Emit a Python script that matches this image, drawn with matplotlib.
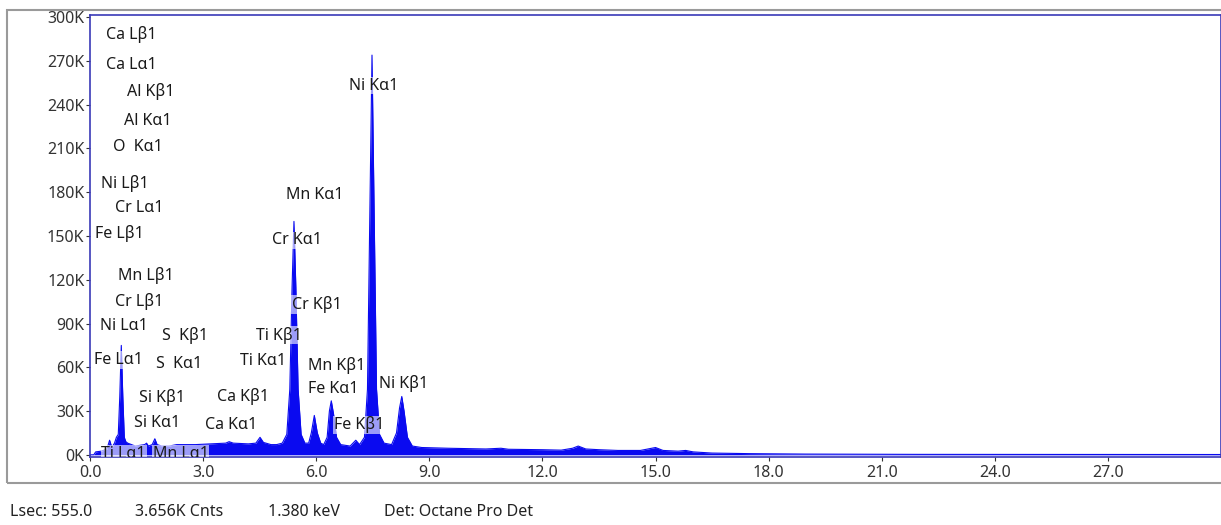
import numpy as np
import matplotlib
matplotlib.use("Agg")
import matplotlib.pyplot as plt
from matplotlib.patches import Rectangle

plt.rcParams['font.family'] = ['Noto Sans', 'DejaVu Sans']

# spectrum: energy (keV), counts (K)
energy = [0.00, 0.10, 0.15, 0.30, 0.45, 0.52, 0.58, 0.65, 0.70, 0.75, 0.79, 0.83,
          0.87, 0.91, 0.95, 1.00, 1.20, 1.45, 1.50, 1.55, 1.65, 1.72, 1.78, 1.90,
          2.10, 2.30, 2.40, 2.80, 3.20, 3.60, 3.69, 3.80, 4.20, 4.40, 4.51, 4.60,
          4.80, 4.95, 5.10, 5.22, 5.30, 5.36, 5.41, 5.46, 5.52, 5.60, 5.70, 5.80,
          5.87, 5.95, 6.03, 6.12, 6.20, 6.29, 6.35, 6.40, 6.46, 6.54, 6.65, 6.90,
          7.05, 7.15, 7.28, 7.36, 7.42, 7.48, 7.54, 7.60, 7.68, 7.80, 8.00, 8.13,
          8.21, 8.27, 8.33, 8.42, 8.55, 8.80, 9.50, 10.5, 10.9, 11.1, 12.0, 12.5,
          12.8, 12.95, 13.15, 13.5, 14.0, 14.6, 14.9, 15.0, 15.2, 15.6, 15.8, 16.0,
          16.5, 17.5, 19.0, 22.0, 30.0]
counts_k = [0, 0, 2.0, 2.5, 4, 10, 5, 8, 12, 14, 40, 75,
            40, 12, 9, 8, 6, 7, 8, 6, 7, 11, 7, 6,
            6, 7, 7, 7, 7.5, 8, 9, 8, 7.5, 8, 12, 8.5,
            7, 7, 8, 14, 45, 115, 160, 115, 45, 14, 8, 8,
            15, 27, 15, 8, 7, 12, 30, 37, 28, 12, 7, 6,
            10, 7, 12, 45, 160, 274, 160, 45, 14, 8, 7, 15,
            32, 40, 30, 12, 6, 5, 4.5, 4, 4.5, 3.8, 3.5, 3.2,
            4.5, 6, 4, 3.5, 3, 3, 4.5, 5, 3, 2.5, 3, 2,
            1.2, 0.8, 0.5, 0.3, 0.2]

# peak labels: text, energy (keV), counts (K) at the label's left/centre
label_text = ["Ca Lβ1", "Ca Lα1", "Al Kβ1", "Al Kα1", "O  Kα1", "Ni Lβ1", "Cr Lα1",
              "Fe Lβ1", "Mn Lβ1", "Cr Lβ1", "Ni Lα1", "S  Kβ1", "Fe Lα1", "S  Kα1",
              "Si Kβ1", "Si Kα1", "Ca Kβ1", "Ca Kα1", "Ti Kβ1", "Ti Kα1", "Cr Kβ1",
              "Mn Kβ1", "Fe Kα1", "Fe Kβ1", "Ni Kβ1", "Mn Kα1", "Cr Kα1", "Ni Kα1",
              "Ti Lα1", "Mn Lα1"]
label_x = [0.42, 0.42, 0.98, 0.90, 0.61, 0.29, 0.66,
           0.13, 0.74, 0.66, 0.27, 1.91, 0.11, 1.75,
           1.30, 1.17, 3.37, 3.05, 4.40, 3.98, 5.36,
           5.78, 5.78, 6.47, 7.67, 5.20, 4.83, 6.87,
           0.30, 1.66]
label_y = [288, 267, 249, 229, 211, 186, 169,
           152, 123, 105, 88, 82, 65, 62,
           39, 22, 40, 20.5, 82, 64, 103,
           61, 45, 20.5, 48.6, 178, 147, 253,
           0.5, 0.5]

footer = ["Lsec: 555.0", "3.656K Cnts", "1.380 keV", "Det: Octane Pro Det"]
footer_x = [10, 135, 268, 384]

W, H = 1221, 525
fig = plt.figure(figsize=(W / 100, H / 100), dpi=100)
ax = fig.add_axes([90 / W, 1 - 457 / H, (W - 90) / W, 442 / H])

e = np.array(energy)
c = np.array(counts_k) * 1000
ax.fill_between(e, 0, c, color='#0a0af0', lw=0)
ax.plot(e, c, color='#0a0af0', lw=0.8)

for t, x, y in zip(label_text, label_x, label_y):
    ax.text(x, y * 1000, t, fontsize=11.5, color='#1a1a1a', va='center', ha='left',
            clip_on=True,
            bbox=dict(facecolor='white', alpha=0.6, edgecolor='none', pad=0.5))

ax.set_xlim(0, 30)
ax.set_ylim(-1500, 301500)
ax.set_xticks(np.arange(0, 28, 3.0))
ax.set_xticklabels([f"{v:.1f}" for v in np.arange(0, 28, 3.0)])
yt = np.arange(0, 300001, 30000)
ax.set_yticks(yt)
ax.set_yticklabels([f"{int(v // 1000)}K" for v in yt])
ax.tick_params(labelsize=11.5, colors='#333333', length=3, width=0.8, pad=1)
ax.tick_params(axis='x', pad=3)
for s in ax.spines.values():
    s.set_color('#3a3ab8')
    s.set_linewidth(1.2)

fig.patches.append(Rectangle((7 / W, 1 - 483 / H), 1.0, (483 - 10) / H,
                             transform=fig.transFigure, fill=False,
                             edgecolor='#9a9a9a', lw=1.5))

for t, x in zip(footer, footer_x):
    fig.text(x / W, 1 - 512 / H, t, fontsize=11.5, color='#222222', va='center', ha='left')

fig.savefig("out.png", dpi=100)
